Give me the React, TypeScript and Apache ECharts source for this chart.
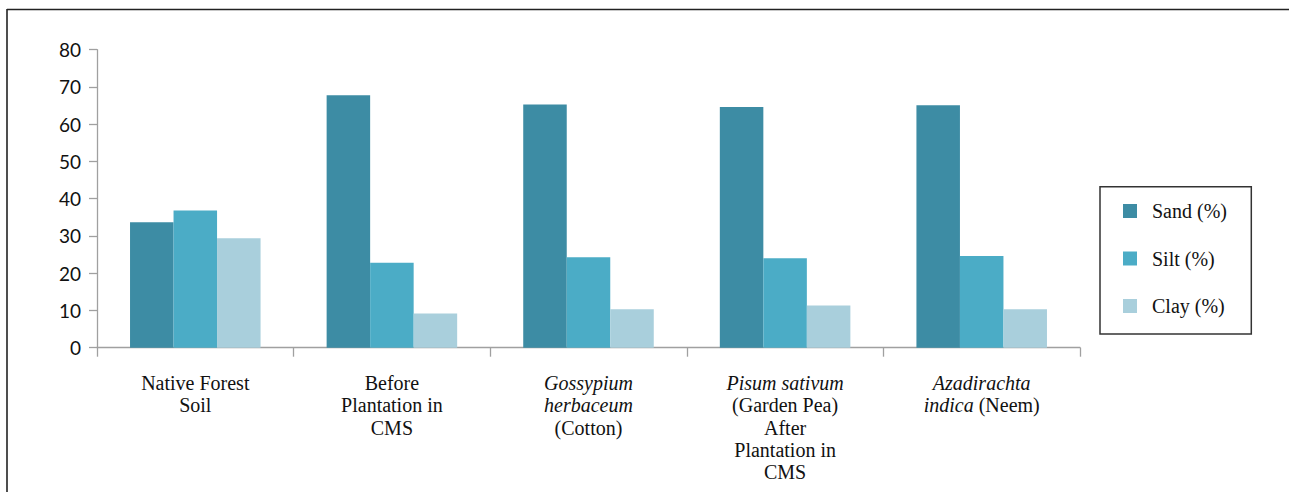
import React, { useEffect, useRef } from "react";
import * as echarts from "echarts";

const categories = [
  "Native Forest Soil",
  "Before Plantation in CMS",
  "Gossypium herbaceum (Cotton)",
  "Pisum sativum (Garden Pea) After Plantation in CMS",
  "Azadirachta indica (Neem)",
];
const categoryLabels = [
  "Native Forest\nSoil",
  "Before\nPlantation in\nCMS",
  "{i|Gossypium}\n{i|herbaceum}\n(Cotton)",
  "{i|Pisum sativum}\n(Garden Pea)\nAfter\nPlantation in\nCMS",
  "{i|Azadirachta}\n{i|indica} (Neem)",
];
const seriesNames = ["Sand (%)", "Silt (%)", "Clay (%)"];
const sandValues = [33.7, 67.8, 65.3, 64.6, 65.1];
const siltValues = [36.8, 22.8, 24.3, 24.0, 24.6];
const clayValues = [29.4, 9.2, 10.3, 11.3, 10.3];
const yTicks = { min: 0, max: 80, interval: 10 };
const colors = ["#3d8ca4", "#4bacc6", "#a9cfdc"];

export default function App() {
  const ref = useRef<HTMLDivElement>(null);
  useEffect(() => {
    if (!ref.current) return;
    const chart = echarts.init(ref.current, null, { renderer: "svg" });
    const serif = "'Liberation Serif', 'DejaVu Serif', serif";
    const values = [sandValues, siltValues, clayValues];
    chart.setOption({
      animation: false,
      backgroundColor: "#ffffff",
      grid: { left: 97, right: 209, top: 49.7, bottom: 144.3, containLabel: false },
      legend: {
        orient: "vertical",
        left: 1123,
        top: 201,
        padding: 0,
        itemWidth: 14,
        itemHeight: 14,
        itemGap: 27.5,
        icon: "rect",
        data: seriesNames,
        textStyle: {
          fontFamily: serif,
          fontSize: 20,
          lineHeight: 20,
          color: "#111",
          padding: [0, 0, 0, 10],
        },
      },
      xAxis: {
        type: "category",
        data: categories,
        axisLine: { show: true, lineStyle: { color: "#a0a0a0", width: 1.3 } },
        axisTick: { show: true, length: 9, alignWithLabel: false, lineStyle: { color: "#a0a0a0", width: 1.3 } },
        axisLabel: {
          interval: 0,
          margin: 24,
          align: "center",
          fontFamily: serif,
          fontSize: 20,
          lineHeight: 22.4,
          color: "#111",
          formatter: (_v: string, idx: number) => categoryLabels[idx],
          rich: {
            i: { fontFamily: serif, fontSize: 20, lineHeight: 22.4, fontStyle: "italic", color: "#111" },
          },
        },
        splitLine: { show: false },
      },
      yAxis: {
        type: "value",
        min: yTicks.min,
        max: yTicks.max,
        interval: yTicks.interval,
        axisLine: { show: true, lineStyle: { color: "#a0a0a0", width: 1.3 } },
        axisTick: { show: true, length: 8, lineStyle: { color: "#a0a0a0", width: 1.3 } },
        axisLabel: { margin: 16, fontFamily: "Lato, sans-serif", fontSize: 19, color: "#111" },
        splitLine: { show: false },
      },
      series: seriesNames.map((name, i) => ({
        name,
        type: "bar",
        data: values[i],
        barGap: "0%",
        barCategoryGap: "33.6%",
        itemStyle: { color: colors[i] },
      })),
      graphic: [
        { type: "line", shape: { x1: 7, y1: 9.5, x2: 1289, y2: 9.5 }, style: { stroke: "#222", lineWidth: 1.6 } },
        { type: "line", shape: { x1: 7, y1: 9, x2: 7, y2: 492 }, style: { stroke: "#222", lineWidth: 1.6 } },
        {
          type: "rect",
          shape: { x: 1100, y: 186.7, width: 151.3, height: 147.3 },
          style: { fill: "none", stroke: "#333", lineWidth: 1.5 },
        },
      ],
    });
    return () => chart.dispose();
  }, []);
  return (
    <div
      ref={ref}
      style={{ position: "fixed", left: 0, top: 0, width: 1289, height: 492 }}
    />
  );
}
